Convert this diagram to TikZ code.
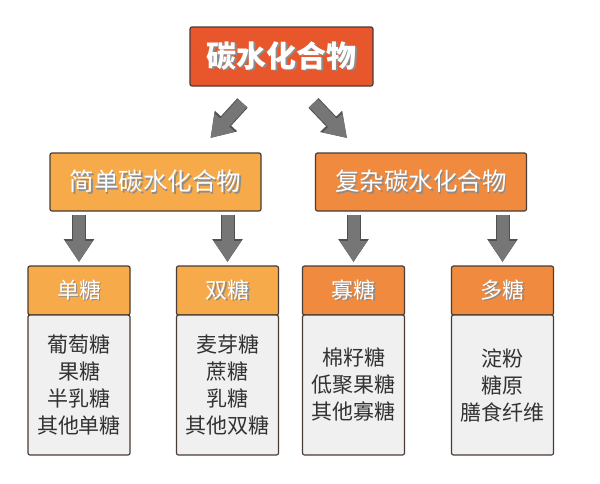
\documentclass[tikz,border=0pt]{standalone}
\usepackage{fontspec}
\setmainfont{Noto Sans CJK SC}
\usepackage{xcolor}
\usetikzlibrary{arrows.meta,positioning,calc}

\definecolor{topred}{HTML}{E8562C}
\definecolor{lightorange}{HTML}{F6AA4A}
\definecolor{deeporange}{HTML}{EF8A3F}
\definecolor{edgebrown}{HTML}{4A3C34}
\definecolor{bodygray}{HTML}{F0F0F0}
\definecolor{textgray}{HTML}{333333}
\definecolor{arrowgray}{HTML}{767676}
\definecolor{arrowedge}{HTML}{505050}

% white label with a soft drop shadow
\newcommand{\shadowed}[1]{\makebox[0pt][l]{\hspace{1.5pt}\raisebox{-1.5pt}{\textcolor{black!45}{#1}}}#1}

\begin{document}
\begin{tikzpicture}[
  x=1pt, y=-1pt,
  box/.style={draw=edgebrown, line width=1.2pt, rounded corners=2pt, align=center, outer sep=0pt, inner sep=0pt, text=white},
  titlebox/.style={box, fill=topred, minimum width=183pt, minimum height=59pt, font=\fontsize{30}{32}\selectfont\bfseries},
  groupbox/.style={box, minimum width=211pt, minimum height=58pt, font=\fontsize{24.5}{28}\selectfont},
  headbox/.style={box, minimum width=102pt, minimum height=49pt, font=\fontsize{22}{26}\selectfont},
  bodybox/.style={box, fill=bodygray, text=textgray, minimum width=102pt, minimum height=140pt, font=\fontsize{21}{27}\selectfont},
  blockarrow/.style={line width=12pt, draw=arrowgray, -{Triangle[width=26pt,length=21pt]},
    preaction={draw=arrowedge, line width=14pt, -{Triangle[width=29pt,length=23pt]}}}
]
\path[use as bounding box, fill=white] (0,0) rectangle (600,483);

\node[titlebox] (carb) at (281.5,56.5) {\shadowed{碳水化合物}};
\node[groupbox, fill=lightorange] (simple) at (155.5,182) {\shadowed{简单碳水化合物}};
\node[groupbox, fill=deeporange] (complex) at (421,182) {\shadowed{复杂碳水化合物}};

\node[headbox, fill=lightorange] (mono) at (79,290.5) {\shadowed{单糖}};
\node[headbox, fill=lightorange] (di) at (227.5,290.5) {\shadowed{双糖}};
\node[headbox, fill=deeporange] (oligo) at (353.5,290.5) {\shadowed{寡糖}};
\node[headbox, fill=deeporange] (poly) at (502.5,290.5) {\shadowed{多糖}};

\node[bodybox, below=0pt of mono] (monolist) {葡萄糖\\果糖\\半乳糖\\其他单糖};
\node[bodybox, below=0pt of di] (dilist) {麦芽糖\\蔗糖\\乳糖\\其他双糖};
\node[bodybox, below=0pt of oligo] (oligolist) {棉籽糖\\低聚果糖\\其他寡糖};
\node[bodybox, below=0pt of poly] (polylist) {淀粉\\糖原\\膳食纤维};

\draw[blockarrow] ($(carb.south)+(-39,17)$) -- ($(simple.north)+(55,-15)$);
\draw[blockarrow] ($(carb.south)+(32,17)$) -- ($(complex.north)+(-74,-15)$);

\draw[blockarrow] ($(simple.south -| mono.north)+(0,4)$) -- ($(mono.north)+(0,-4)$);
\draw[blockarrow] ($(simple.south -| di.north)+(0,4)$) -- ($(di.north)+(0,-4)$);
\draw[blockarrow] ($(complex.south -| oligo.north)+(0,4)$) -- ($(oligo.north)+(0,-4)$);
\draw[blockarrow] ($(complex.south -| poly.north)+(0,4)$) -- ($(poly.north)+(0,-4)$);
\end{tikzpicture}
\end{document}
